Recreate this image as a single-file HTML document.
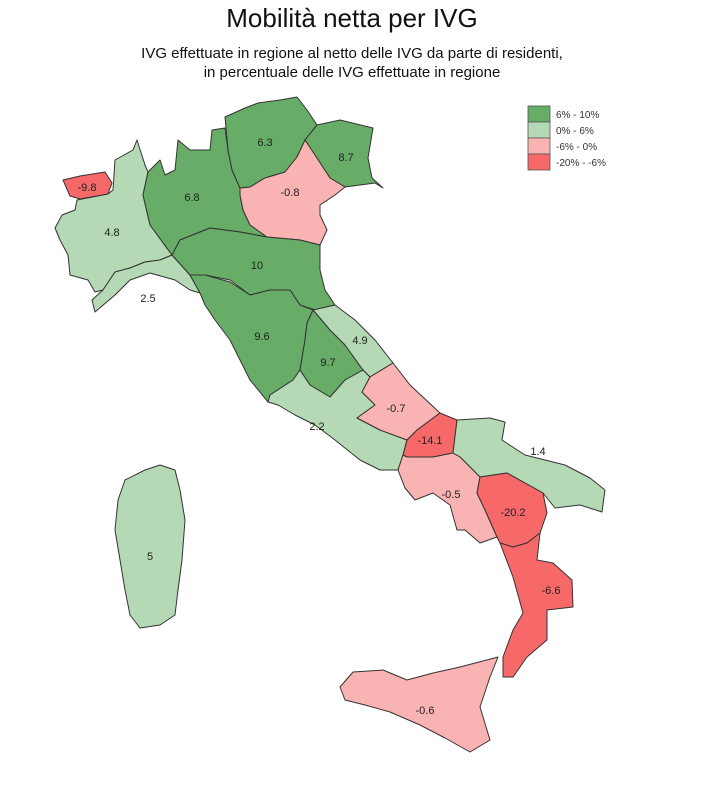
<!DOCTYPE html>
<html><head><meta charset="utf-8"><style>
body{margin:0;background:#fff;}
svg{display:block;font-family:"Liberation Sans",sans-serif;}
</style></head><body>
<svg width="702" height="800" viewBox="0 0 702 800">
<text x="352" y="27" text-anchor="middle" font-size="26" fill="#111">Mobilità netta per IVG</text>
<text x="352" y="58" text-anchor="middle" font-size="15" fill="#111">IVG effettuate in regione al netto delle IVG da parte di residenti,</text>
<text x="352" y="77" text-anchor="middle" font-size="15" fill="#111">in percentuale delle IVG effettuate in regione</text>
<g id="regions"></g>
<g id="labels"></g>
<g id="legend"></g>
</svg>
<script>
const regionNames=["valle-aosta","piemonte","liguria","lombardia","trentino","friuli","veneto","emilia-romagna","toscana","umbria","marche","lazio","abruzzo","molise","puglia","campania","basilicata","calabria","sicilia","sardegna"];
const regionValues=[-9.8,4.8,2.5,6.8,6.3,8.7,-0.8,10,9.6,9.7,4.9,2.2,-0.7,-14.1,1.4,-0.5,-20.2,-6.6,-0.6,5];
const legendLabels=["6% - 10%","0% - 6%","-6% - 0%","-20% - -6%"];
const legendBreaks=[6,0,-6,-20];
const legendColors=["#67ad67","#b5d8b5","#f9b3b3","#f76868"];
const shapes=[
[[63,180],[80,176],[105,172],[112,183],[108,194],[80,199],[70,196]],
[[77,200],[108,194],[113,190],[115,160],[133,150],[137,140],[145,165],[148,172],[143,195],[150,225],[172,255],[160,260],[145,262],[130,268],[115,272],[103,290],[95,292],[88,280],[70,275],[68,255],[60,240],[55,228],[62,215],[75,210]],
[[103,290],[115,272],[130,268],[145,262],[160,260],[172,255],[190,275],[200,293],[190,290],[175,280],[150,273],[130,280],[115,295],[95,312],[92,300]],
[[148,172],[160,160],[165,175],[175,170],[178,140],[190,150],[210,150],[212,130],[225,128],[228,150],[232,170],[240,188],[240,195],[243,210],[250,225],[267,237],[240,232],[210,228],[180,240],[172,255],[150,225],[143,195]],
[[228,150],[225,117],[245,108],[258,103],[280,100],[297,97],[307,110],[317,125],[305,140],[297,157],[285,172],[265,178],[250,187],[240,188],[232,170]],
[[317,125],[340,120],[373,128],[368,158],[372,178],[383,188],[375,183],[345,187],[330,178],[315,155],[305,140]],
[[305,140],[315,155],[330,178],[345,187],[335,195],[320,205],[320,215],[327,230],[320,245],[300,240],[267,237],[250,225],[243,210],[240,195],[240,188],[250,187],[265,178],[285,172],[297,157]],
[[172,255],[180,240],[210,228],[240,232],[267,237],[300,240],[320,245],[320,270],[325,290],[335,305],[315,310],[300,305],[290,290],[270,290],[250,295],[230,280],[205,275],[190,275]],
[[190,275],[205,275],[230,282],[250,295],[270,290],[290,290],[300,305],[313,310],[307,323],[305,340],[300,370],[293,380],[270,395],[268,402],[250,380],[240,360],[230,340],[215,320],[205,305],[200,293]],
[[313,310],[320,318],[330,330],[345,345],[363,370],[345,380],[330,397],[310,385],[300,370],[305,340],[307,323]],
[[313,310],[335,305],[355,320],[375,340],[393,363],[370,377],[363,370],[345,345],[330,330],[320,318]],
[[268,402],[270,395],[293,380],[300,370],[310,385],[330,397],[345,380],[363,370],[370,377],[362,392],[375,405],[357,418],[380,430],[407,440],[403,455],[398,470],[380,470],[360,460],[335,440],[315,425],[295,415],[278,405]],
[[370,377],[393,363],[410,385],[440,413],[417,430],[407,440],[380,430],[357,418],[375,405],[362,392]],
[[417,430],[440,413],[457,420],[453,453],[433,457],[407,457],[403,455],[407,440]],
[[457,420],[490,418],[505,422],[502,440],[525,455],[565,465],[590,478],[605,490],[602,512],[580,505],[555,508],[543,493],[507,473],[480,477],[460,457],[453,453]],
[[398,470],[403,455],[407,457],[433,457],[453,453],[460,457],[480,477],[477,493],[485,510],[497,537],[480,543],[465,530],[457,530],[450,505],[433,493],[415,500],[405,488]],
[[477,493],[480,477],[507,473],[543,493],[547,513],[540,533],[527,543],[513,547],[500,543],[497,537],[485,510]],
[[500,543],[513,547],[527,543],[540,533],[537,560],[553,563],[572,580],[573,607],[547,610],[547,640],[527,657],[513,677],[503,677],[503,657],[513,630],[523,613],[513,577]],
[[340,687],[353,672],[383,670],[407,680],[433,673],[460,667],[498,657],[490,677],[480,707],[490,740],[470,752],[445,738],[420,725],[390,712],[365,705],[345,700]],
[[125,480],[145,470],[160,465],[175,470],[180,490],[185,520],[182,560],[178,590],[175,615],[160,625],[140,628],[130,615],[125,590],[120,560],[115,530],[118,500]]
];
const labelPos=[[87,187],[112,232],[148,298],[192,197],[265,142],[346,157],[290,192],[257,265],[262,336],[328,362],[360,340],[317,426],[396,408],[430,440],[538,451],[451,494],[513,512],[551,590],[425,710],[150,556]];
function colorFor(v){for(let i=0;i<legendBreaks.length;i++){if(v>=legendBreaks[i])return legendColors[i];}return legendColors[legendColors.length-1];}
const NS="http://www.w3.org/2000/svg";
const gR=document.getElementById('regions'),gL=document.getElementById('labels'),gG=document.getElementById('legend');
shapes.forEach((pts,i)=>{
 const p=document.createElementNS(NS,'polygon');
 p.setAttribute('points',pts.map(q=>q.join(',')).join(' '));
 p.setAttribute('fill',colorFor(regionValues[i]));
 p.setAttribute('stroke','#333');p.setAttribute('stroke-width','1');p.setAttribute('stroke-linejoin','round');
 
 
 gR.appendChild(p);
 const t=document.createElementNS(NS,'text');
 t.setAttribute('x',labelPos[i][0]);t.setAttribute('y',labelPos[i][1]+4);
 t.setAttribute('text-anchor','middle');t.setAttribute('font-size','11');t.setAttribute('fill','#222');
 t.textContent=String(regionValues[i]);
 
 
 gL.appendChild(t);
});
legendLabels.forEach((lab,i)=>{
 const r=document.createElementNS(NS,'rect');
 r.setAttribute('x',528);r.setAttribute('y',106+i*16);r.setAttribute('width',22);r.setAttribute('height',16);
 r.setAttribute('fill',legendColors[i]);r.setAttribute('stroke','#555');r.setAttribute('stroke-width','0.8');
 
 
 gG.appendChild(r);
 const t=document.createElementNS(NS,'text');
 t.setAttribute('x',556);t.setAttribute('y',118+i*16);t.setAttribute('font-size','10');t.setAttribute('fill','#333');
 t.textContent=lab;
 
 
 gG.appendChild(t);
});
</script>
</body></html>
